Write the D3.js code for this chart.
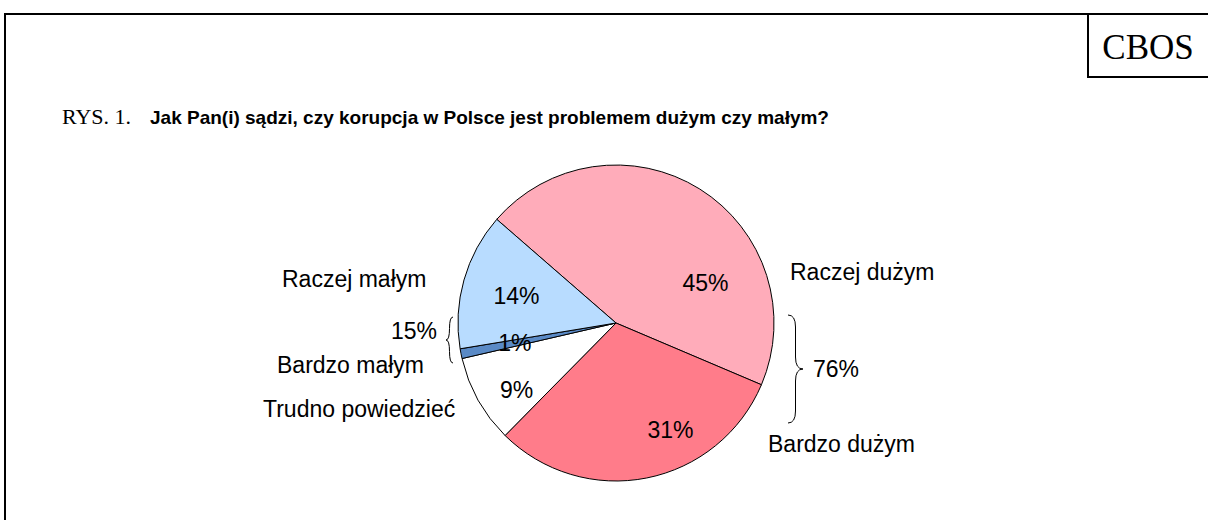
<!DOCTYPE html>
<html>
<head>
<meta charset="utf-8">
<script src="https://cdn.jsdelivr.net/npm/d3@7"></script>
<style>
  body { margin: 0; background: #fff; }
  svg { display: block; }
</style>
</head>
<body>
<div id="chart"></div>
<script>
// dane z rysunku (kolejnosc zgodnie z ruchem wskazowek zegara)
const categories = ["Raczej dużym", "Bardzo dużym", "Trudno powiedzieć", "Bardzo małym", "Raczej małym"];
const values = [45, 31, 9, 1, 14];
const colors = ["#ffacba", "#ff7c8a", "#ffffff", "#5a8ac6", "#b8dcff"];
const groupLabels = ["15%", "76%"];

const width = 1208, height = 520;
const cx = 616, cy = 323, radius = 158;
const sans = "'Liberation Sans', Arial, sans-serif";
const serif = "'Liberation Serif', 'Times New Roman', serif";

let svg = d3.select("#chart").append("svg")
    .attr("width", width)
    .attr("height", height);

// ramka
svg.append("path")
    .attr("d", "M5,520 L5,14 L1208,14")
    .attr("fill", "none")
    .attr("stroke", "#000")
    .attr("stroke-width", 2);
svg.append("path")
    .attr("d", "M1088,14 L1088,77 L1208,77")
    .attr("fill", "none")
    .attr("stroke", "#000")
    .attr("stroke-width", 2);
svg.append("text")
    .attr("x", 1148).attr("y", 59)
    .attr("text-anchor", "middle")
    .style("font-family", serif)
    .style("font-size", "35px")
    .text("CBOS");

// tytul
svg.append("text")
    .attr("x", 62).attr("y", 124)
    .style("font-family", serif)
    .style("font-size", "22px")
    .text("RYS. 1.");
svg.append("text")
    .attr("x", 150).attr("y", 124)
    .style("font-family", sans)
    .style("font-size", "19px")
    .style("font-weight", "bold")
    .text("Jak Pan(i) sądzi, czy korupcja w Polsce jest problemem dużym czy małym?");

// wykres kolowy
let pie = d3.pie().sort(null).value(d => d)
    .startAngle(-49 * Math.PI / 180)
    .endAngle(311 * Math.PI / 180);
let arc = d3.arc().innerRadius(0).outerRadius(radius);
let arcs = pie(values);

let g = svg.append("g").attr("transform", `translate(${cx},${cy})`);
g.selectAll("path.slice")
    .data(arcs)
  .enter()
    .append("path")
    .attr("class", "slice")
    .attr("d", arc)
    .attr("fill", (d, i) => colors[i])
    .attr("stroke", "#000")
    .attr("stroke-width", 1);

// polozenie etykiet procentowych (kat w stopniach, promien)
const labelPolar = [[66, 98], [153, 120], [236, 120], [259, 103], [285, 103]];
g.selectAll("text.pct")
    .data(arcs)
  .enter()
    .append("text")
    .attr("class", "pct")
    .attr("x", (d, i) => labelPolar[i][1] * Math.sin(labelPolar[i][0] * Math.PI / 180))
    .attr("y", (d, i) => -labelPolar[i][1] * Math.cos(labelPolar[i][0] * Math.PI / 180))
    .attr("dy", "0.35em")
    .attr("text-anchor", "middle")
    .style("font-family", sans)
    .style("font-size", "23px")
    .text(d => d.value + "%");

// etykiety kategorii
const catPos = [[790, 280], [768, 452], [263, 417], [277, 373], [282, 287]];
svg.selectAll("text.cat")
    .data(categories)
  .enter()
    .append("text")
    .attr("class", "cat")
    .attr("x", (d, i) => catPos[i][0])
    .attr("y", (d, i) => catPos[i][1])
    .style("font-family", sans)
    .style("font-size", "23px")
    .text(d => d);

// nawiasy klamrowe
function brace(x, y0, y1, w) {
    let ym = (y0 + y1) / 2, h = w / 2, q = Math.min(12, (y1 - y0) / 4);
    return `M${x},${y0} Q${x + h},${y0} ${x + h},${y0 + q} L${x + h},${ym - q} ` +
        `Q${x + h},${ym} ${x + w},${ym} Q${x + h},${ym} ${x + h},${ym + q} ` +
        `L${x + h},${y1 - q} Q${x + h},${y1} ${x},${y1}`;
}
svg.append("path")
    .attr("d", brace(453, 317, 363, -7))
    .attr("fill", "none").attr("stroke", "#000").attr("stroke-width", 1);
svg.append("path")
    .attr("d", brace(788, 315, 423, 15))
    .attr("fill", "none").attr("stroke", "#000").attr("stroke-width", 1);

svg.append("text")
    .attr("x", 391).attr("y", 339)
    .style("font-family", sans)
    .style("font-size", "23px")
    .text(groupLabels[0]);
svg.append("text")
    .attr("x", 813).attr("y", 377)
    .style("font-family", sans)
    .style("font-size", "23px")
    .text(groupLabels[1]);
</script>
</body>
</html>
